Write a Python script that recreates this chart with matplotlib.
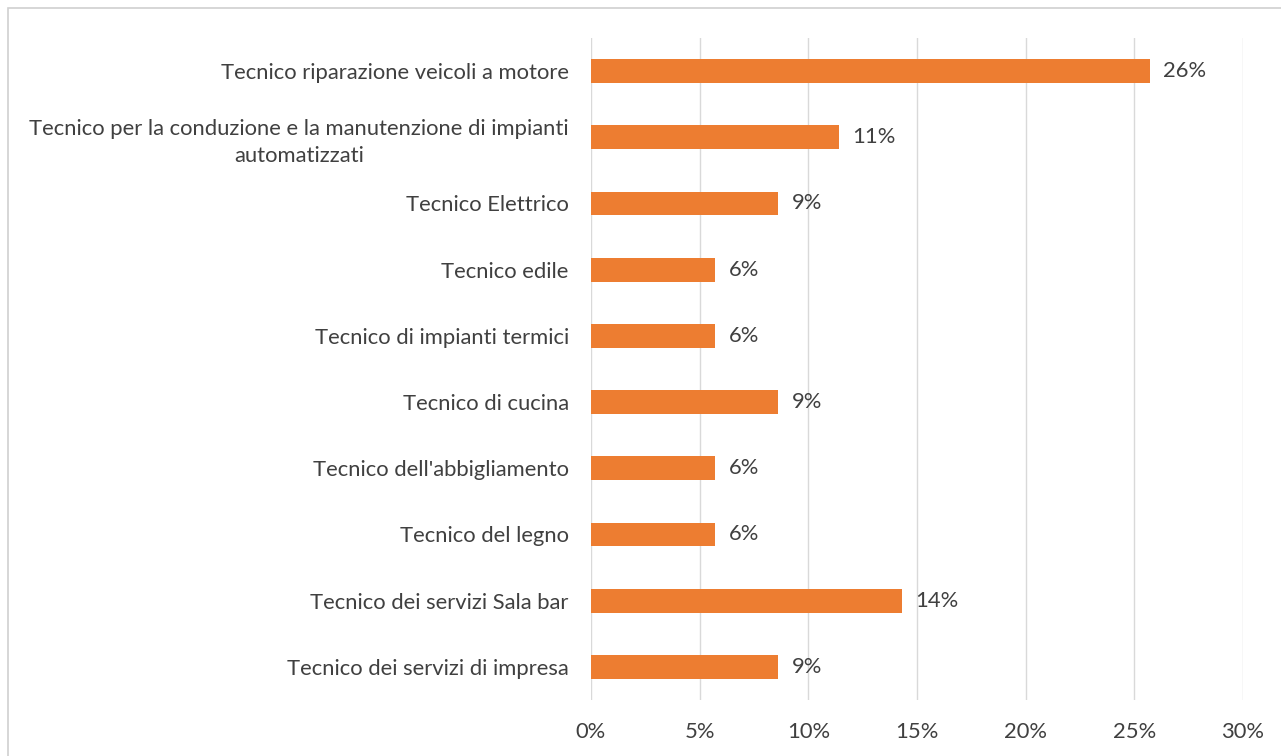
import numpy as np
import matplotlib
matplotlib.use("Agg")
import matplotlib.pyplot as plt
from matplotlib.patches import Rectangle

# Data (share of students per course, n=35)
categories = [
    "Tecnico riparazione veicoli a motore",
    "Tecnico per la conduzione e la manutenzione di impianti\nautomatizzati",
    "Tecnico Elettrico",
    "Tecnico edile",
    "Tecnico di impianti termici",
    "Tecnico di cucina",
    "Tecnico dell'abbigliamento",
    "Tecnico del legno",
    "Tecnico dei servizi Sala bar",
    "Tecnico dei servizi di impresa",
]
values = [25.7, 11.4, 8.6, 5.7, 5.7, 8.6, 5.7, 5.7, 14.3, 8.6]
xticks = [0, 5, 10, 15, 20, 25, 30]

plt.rcParams['font.family'] = ['Lato', 'DejaVu Sans']
textcol = "#404040"
orange = "#ED7D31"
fs = 15.8

fig = plt.figure(figsize=(12.81, 7.56), dpi=100)
fig.patch.set_facecolor("white")
# light outer frame
fig.patches.append(Rectangle((8/1281, -0.01), 1.02, 1 - 8/756 + 0.01,
                             transform=fig.transFigure, fill=False,
                             edgecolor="#D0D0D0", lw=1.2))

ax = fig.add_axes([591/1281, 1 - 700/756, (1243 - 591)/1281, 662/756])
y = np.arange(len(categories))
ax.barh(y, values, height=0.36, color=orange, zorder=3)

#Data labels
for yi, v in zip(y, values):
    ax.annotate("%d%%" % round(v), (v, yi), xytext=(10, 0), textcoords="offset points",
                va="center", ha="left", fontsize=fs, color=textcol)

ax.set_ylim(len(categories) - 0.5, -0.5)
ax.set_xlim(0, 30)
ax.set_xticks(xticks)
ax.set_xticklabels(["%d%%" % t for t in xticks])
ax.set_yticks(y)
ax.set_yticklabels(categories, multialignment="center", linespacing=1.45)
ax.tick_params(axis="both", length=0, labelsize=fs, labelcolor=textcol)
ax.tick_params(axis="x", pad=16)
ax.tick_params(axis="y", pad=16)
ax.grid(axis="x", color="#D9D9D9", lw=1, zorder=0)
for s in ax.spines.values():
    s.set_visible(False)

fig.savefig("out.png", dpi=100)
